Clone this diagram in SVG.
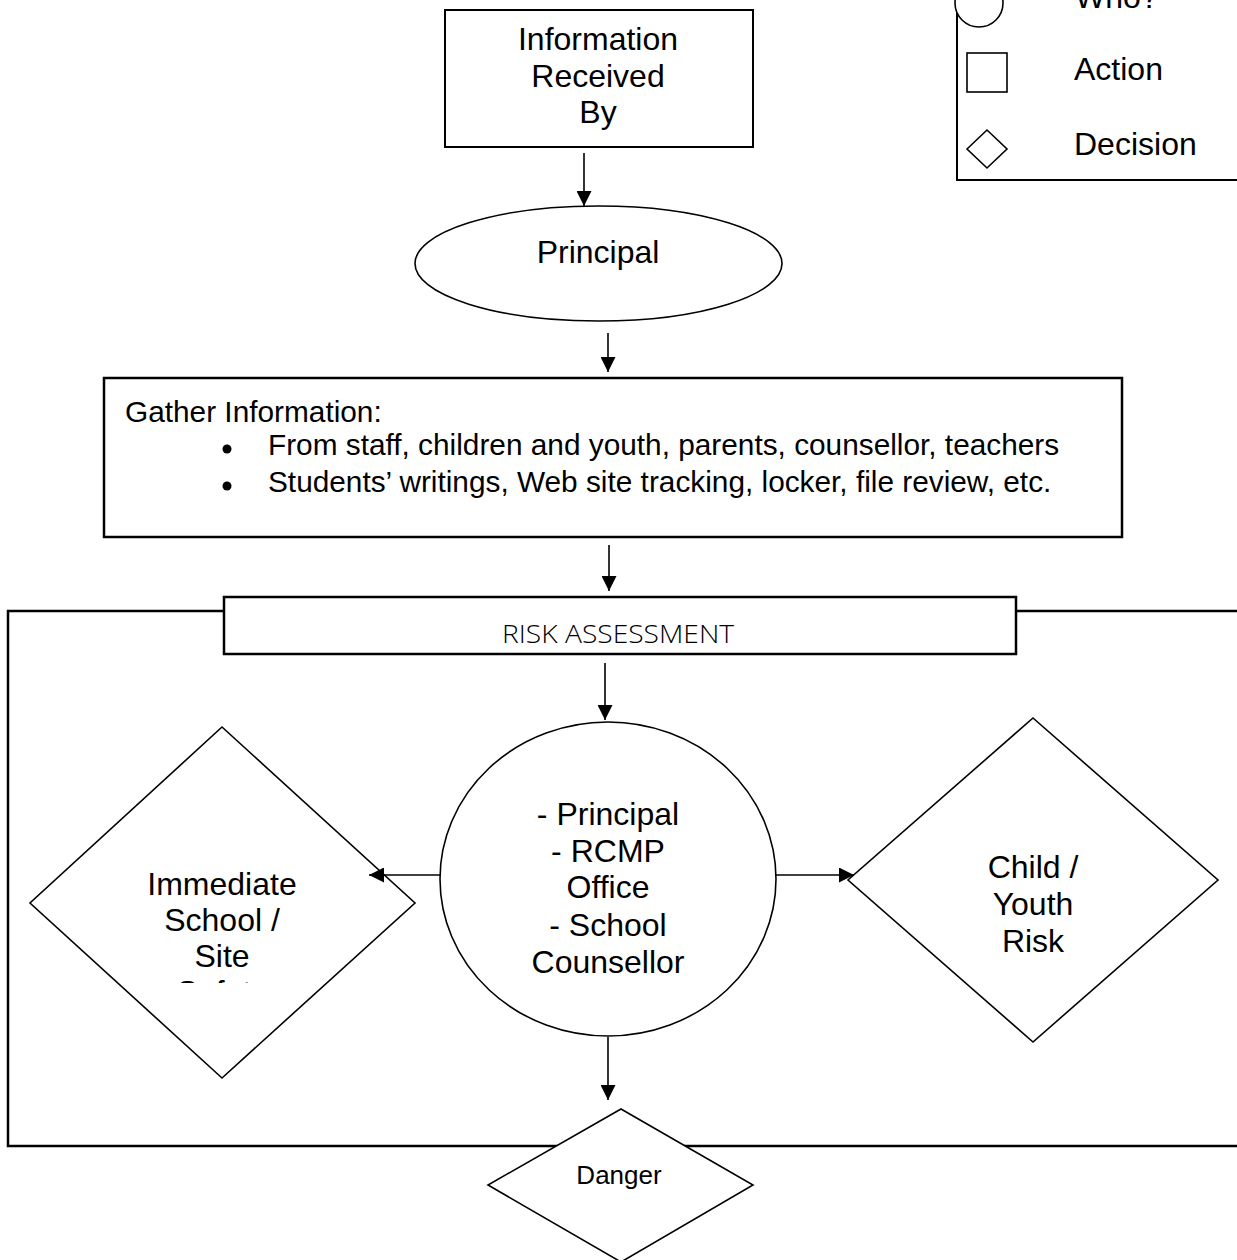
<svg xmlns="http://www.w3.org/2000/svg" width="1237" height="1260" viewBox="0 0 1237 1260">
<style>
.t{font-family:"Liberation Sans",Arial,sans-serif;font-size:32px;fill:#000}
.c{text-anchor:middle}
.g{font-size:29.8px}
.box{fill:#fff;stroke:#000;stroke-width:2}
.shp{fill:#fff;stroke:#000;stroke-width:1.6}
.ln{stroke:#000;stroke-width:1.6;fill:none}
.ra{font-family:"Open Sans","Liberation Sans",sans-serif;font-weight:300;font-size:25px;fill:#000}
</style>
<defs>
<marker id="ah" markerWidth="15" markerHeight="15" viewBox="0 0 15 15" refX="15" refY="7.5" orient="auto" markerUnits="userSpaceOnUse">
<path d="M0,0 L15,7.5 L0,15 Z" fill="#000"/>
</marker>
<clipPath id="clipSite"><rect x="100" y="970" width="250" height="13"/></clipPath>
</defs>
<rect width="1237" height="1260" fill="#fff"/>

<g id="frame">
<rect x="8" y="611" width="1260" height="535" fill="none" stroke="#000" stroke-width="2.5"/>
</g>

<g id="legend">
<rect x="957" y="-10" width="300" height="190" fill="#fff" stroke="#000" stroke-width="2"/>
<circle cx="979" cy="3" r="24" class="shp"/>
<rect x="967" y="53" width="40" height="39" class="shp"/>
<polygon points="967,149 987,130 1007,149 987,168" class="shp"/>
<text class="t" x="1075" y="8">Who?</text>
<text class="t" x="1074" y="80">Action</text>
<text class="t" x="1074" y="155">Decision</text>
</g>

<g id="info-received">
<rect x="445" y="10" width="308" height="137" class="box"/>
<text class="t c" x="598" y="50">Information</text>
<text class="t c" x="598" y="87">Received</text>
<text class="t c" x="598" y="123">By</text>
</g>

<g id="principal">
<ellipse cx="598.5" cy="263.5" rx="183.5" ry="57.5" class="shp"/>
<text class="t c" x="598" y="263">Principal</text>
</g>

<g id="gather">
<rect x="104" y="378" width="1018" height="159" fill="#fff" stroke="#000" stroke-width="2.5"/>
<text class="t g" x="125" y="422">Gather Information:</text>
<circle cx="227" cy="449" r="4.5" fill="#000"/>
<circle cx="227" cy="486" r="4.5" fill="#000"/>
<text class="t g" x="268" y="455">From staff, children and youth, parents, counsellor, teachers</text>
<text class="t g" x="268" y="492">Students’ writings, Web site tracking, locker, file review, etc.</text>
</g>

<g id="risk-assessment">
<rect x="224" y="597" width="792" height="57" fill="#fff" stroke="#000" stroke-width="2.5"/>
<text class="ra c" x="618" y="643" textLength="232" lengthAdjust="spacingAndGlyphs">RISK ASSESSMENT</text>
</g>

<g id="immediate-school">
<polygon points="222,727 415,903 222,1078 30,903" class="shp"/>
<text class="t c" x="222" y="895">Immediate</text>
<text class="t c" x="222" y="931">School /</text>
<text class="t c" x="222" y="967">Site</text>
<text class="t c" x="222" y="1003" clip-path="url(#clipSite)">Safety</text>
</g>

<g id="who-circle">
<ellipse cx="608" cy="879" rx="168" ry="157" class="shp"/>
<text class="t c" x="608" y="825">- Principal</text>
<text class="t c" x="608" y="862">- RCMP</text>
<text class="t c" x="608" y="898">Office</text>
<text class="t c" x="608" y="936">- School</text>
<text class="t c" x="608" y="973">Counsellor</text>
</g>

<g id="child-risk">
<polygon points="1033,718 1218,880 1033,1042 848,880" class="shp"/>
<text class="t c" x="1033" y="878">Child /</text>
<text class="t c" x="1033" y="915">Youth</text>
<text class="t c" x="1033" y="952">Risk</text>
</g>

<g id="danger">
<polygon points="621,1109 753,1185 621,1262 488,1185" class="shp"/>
<text class="t c" x="619" y="1184" style="font-size:26px">Danger</text>
</g>

<g id="connectors">
<line x1="584" y1="153" x2="584" y2="206" class="ln" marker-end="url(#ah)"/>
<line x1="608" y1="333" x2="608" y2="372" class="ln" marker-end="url(#ah)"/>
<line x1="609" y1="545" x2="609" y2="591" class="ln" marker-end="url(#ah)"/>
<line x1="605" y1="663" x2="605" y2="720" class="ln" marker-end="url(#ah)"/>
<line x1="440" y1="875" x2="369" y2="875" class="ln" marker-end="url(#ah)"/>
<line x1="776" y1="875" x2="854" y2="875" class="ln" marker-end="url(#ah)"/>
<line x1="608" y1="1037" x2="608" y2="1100" class="ln" marker-end="url(#ah)"/>
</g>
</svg>
